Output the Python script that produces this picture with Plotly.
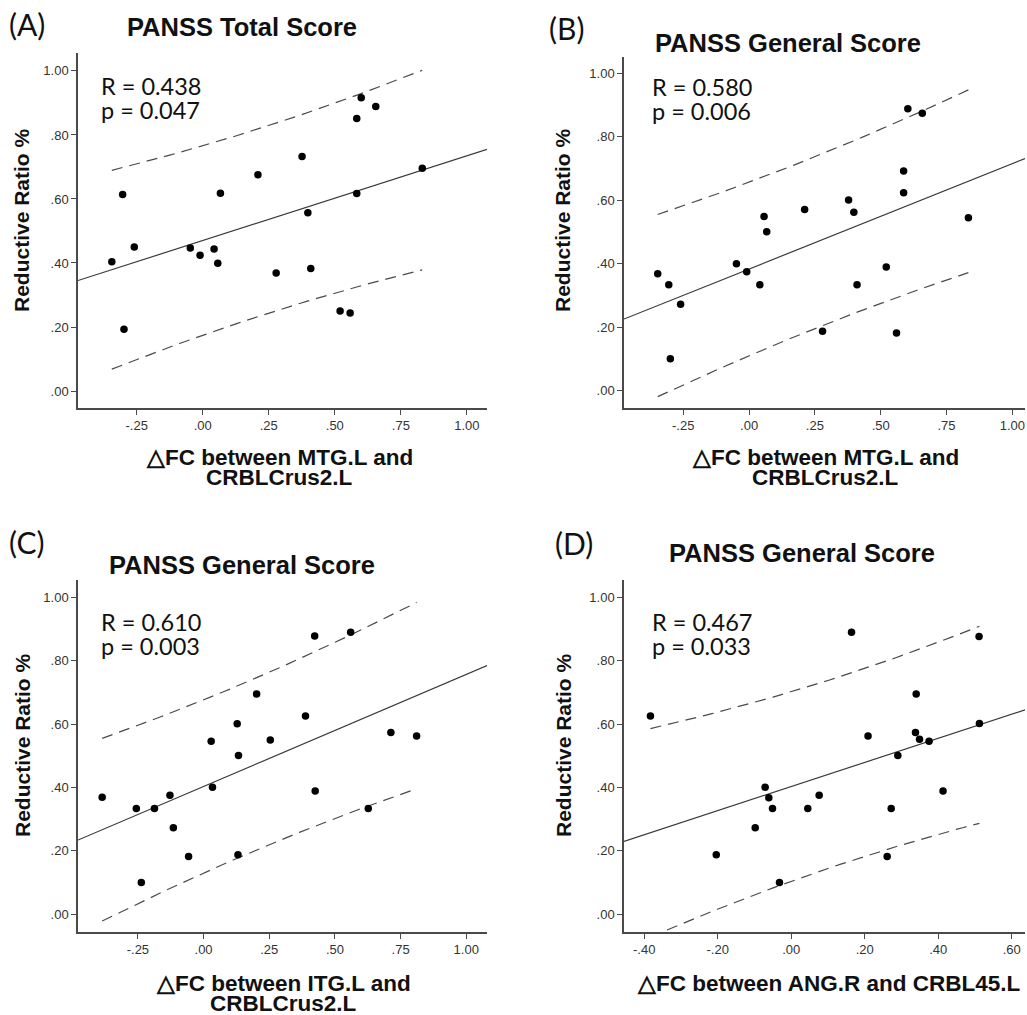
import numpy as np
import plotly.graph_objects as go

W, H = 1027, 1015

# ---------------- data ----------------
a_x = [-0.344, -0.303, -0.298, -0.259, -0.047, -0.010, 0.043, 0.057, 0.067, 0.209, 0.278,
       0.376, 0.398, 0.409, 0.520, 0.558, 0.583, 0.583, 0.600, 0.655, 0.831]
a_y = [0.404, 0.614, 0.193, 0.450, 0.447, 0.424, 0.444, 0.399, 0.618, 0.676, 0.369,
       0.733, 0.557, 0.383, 0.250, 0.244, 0.851, 0.617, 0.916, 0.889, 0.696]

b_x = [-0.347, -0.305, -0.299, -0.260, -0.048, -0.009, 0.041, 0.057, 0.067, 0.211, 0.279,
       0.378, 0.398, 0.410, 0.521, 0.560, 0.587, 0.587, 0.603, 0.658, 0.833]
b_y = [0.369, 0.334, 0.101, 0.273, 0.400, 0.375, 0.334, 0.549, 0.501, 0.571, 0.188,
       0.601, 0.562, 0.334, 0.390, 0.182, 0.692, 0.624, 0.888, 0.874, 0.545]

c_x = [-0.386, -0.256, -0.237, -0.187, -0.128, -0.115, -0.057, 0.029, 0.034, 0.128, 0.131,
       0.133, 0.202, 0.254, 0.388, 0.423, 0.425, 0.560, 0.627, 0.713, 0.811]
c_y = [0.369, 0.334, 0.100, 0.334, 0.376, 0.273, 0.182, 0.546, 0.401, 0.601, 0.188,
       0.501, 0.695, 0.550, 0.626, 0.878, 0.389, 0.890, 0.334, 0.574, 0.563]

d_x = [-0.383, -0.204, -0.098, -0.071, -0.061, -0.051, -0.032, 0.045, 0.076, 0.164, 0.209,
       0.261, 0.272, 0.290, 0.338, 0.340, 0.349, 0.375, 0.413, 0.511, 0.512]
d_y = [0.626, 0.188, 0.273, 0.401, 0.368, 0.334, 0.100, 0.334, 0.376, 0.890, 0.563,
       0.182, 0.334, 0.501, 0.574, 0.695, 0.552, 0.546, 0.389, 0.877, 0.602]

panel_labels = ["(A)", "(B)", "(C)", "(D)"]
titles = ["PANSS Total Score", "PANSS General Score", "PANSS General Score", "PANSS General Score"]
r_texts = ["R = 0.438", "R = 0.580", "R = 0.610", "R = 0.467"]
p_texts = ["p = 0.047", "p = 0.006", "p = 0.003", "p = 0.033"]
xtitle_lines = [["△FC between MTG.L and", "CRBLCrus2.L"],
                ["△FC between MTG.L and", "CRBLCrus2.L"],
                ["△FC between ITG.L and", "CRBLCrus2.L"],
                ["△FC between ANG.R and CRBL45.L"]]
ytitle = "Reductive Ratio %"

y_tickvals = [0.0, 0.2, 0.4, 0.6, 0.8, 1.0]
y_ticktext = [".00", ".20", ".40", ".60", ".80", "1.00"]
x_tickvals_fc = [-0.25, 0.0, 0.25, 0.5, 0.75, 1.0]
x_ticktext_fc = ["-.25", ".00", ".25", ".50", ".75", "1.00"]
x_tickvals_d = [-0.4, -0.2, 0.0, 0.2, 0.4, 0.6]
x_ticktext_d = ["-.40", "-.20", ".00", ".20", ".40", ".60"]

# critical multiplier that reproduces the width of the dashed individual-prediction bands
T_BAND = 1.49

# ---------------- layout geometry (pixels) ----------------
panels = [
    dict(x=a_x, y=a_y, dom=(78, 487, 53, 408), xr=(-0.472, 1.076), yr=(-0.053, 1.056),
         tv=x_tickvals_fc, tt=x_ticktext_fc,
         lab=(7, 24), title=(242, 27), rp=(99, 86), yt=(22, 220), xt=(279, 457)),
    dict(x=b_x, y=b_y, dom=(624, 1025, 57, 408), xr=(-0.475, 1.048), yr=(-0.054, 1.051),
         tv=x_tickvals_fc, tt=x_ticktext_fc,
         lab=(547, 28), title=(788, 43), rp=(650, 87), yt=(563, 220), xt=(825, 457)),
    dict(x=c_x, y=c_y, dom=(78, 487, 580, 932), xr=(-0.478, 1.079), yr=(-0.056, 1.055),
         tv=x_tickvals_fc, tt=x_ticktext_fc,
         lab=(7, 542), title=(242, 565), rp=(99, 622), yt=(22, 745), xt=(283, 983)),
    dict(x=d_x, y=d_y, dom=(624, 1025, 580, 932), xr=(-0.455, 0.636), yr=(-0.056, 1.055),
         tv=x_tickvals_d, tt=x_ticktext_d,
         lab=(553, 543), title=(802, 553), rp=(650, 622), yt=(563, 745), xt=(828, 983)),
]

def px(v):
    return v / W

def py(v):
    return 1 - v / H

AXIS_COLOR = "#4a4a4a"
BOLD_FONT = "Liberation Sans, Arial, sans-serif"
TEXT_FONT = "Lato, Open Sans, sans-serif"

fig = go.Figure()
layout = dict(width=W, height=H, margin=dict(l=0, r=0, t=0, b=0),
              paper_bgcolor="white", plot_bgcolor="white", showlegend=False,
              annotations=[])

for i, p in enumerate(panels):
    n = i + 1
    xa = "x" if n == 1 else f"x{n}"
    ya = "y" if n == 1 else f"y{n}"
    x = np.array(p["x"], dtype=float)
    y = np.array(p["y"], dtype=float)
    nn = len(x)
    slope, intercept = np.polyfit(x, y, 1)
    resid = y - (slope * x + intercept)
    se = np.sqrt(np.sum(resid ** 2) / (nn - 2))
    xbar = x.mean()
    sxx = np.sum((x - xbar) ** 2)

    # fit line across the whole axis
    xl = np.array(p["xr"])
    fig.add_trace(go.Scatter(x=xl, y=slope * xl + intercept, mode="lines",
                             line=dict(color="#3a3a3a", width=1.2),
                             xaxis=xa, yaxis=ya, hoverinfo="skip"))
    # individual prediction band over the data range
    xg = np.linspace(x.min(), x.max(), 60)
    half = T_BAND * se * np.sqrt(1 + 1 / nn + (xg - xbar) ** 2 / sxx)
    for sgn in (1, -1):
        fig.add_trace(go.Scatter(x=xg, y=slope * xg + intercept + sgn * half, mode="lines",
                                 line=dict(color="#4a4a4a", width=1.2, dash="11px,7px"),
                                 xaxis=xa, yaxis=ya, hoverinfo="skip"))
    fig.add_trace(go.Scatter(x=x, y=y, mode="markers",
                             marker=dict(color="black", size=7.5),
                             xaxis=xa, yaxis=ya))

    x0, x1, y0, y1 = p["dom"]
    axis_common = dict(showline=True, linecolor=AXIS_COLOR, linewidth=1.5,
                       ticks="outside", ticklen=5, tickwidth=1, tickcolor=AXIS_COLOR,
                       showgrid=False, zeroline=False,
                       tickfont=dict(family="Liberation Sans, Arial, sans-serif", size=13, color="#333333"))
    layout["xaxis" if n == 1 else f"xaxis{n}"] = dict(
        domain=[px(x0), px(x1)], range=list(p["xr"]), anchor=ya,
        tickvals=p["tv"], ticktext=p["tt"], **axis_common)
    layout["yaxis" if n == 1 else f"yaxis{n}"] = dict(
        domain=[py(y1), py(y0)], range=list(p["yr"]), anchor=xa,
        tickvals=y_tickvals, ticktext=y_ticktext, **axis_common)

    ann = layout["annotations"]
    lx, ly = p["lab"]
    ann.append(dict(text=panel_labels[i], x=px(lx), y=py(ly), xref="paper", yref="paper",
                    xanchor="left", yanchor="middle", showarrow=False,
                    font=dict(family=TEXT_FONT, size=30, color="#111111")))
    tx, ty = p["title"]
    ann.append(dict(text=f"<b>{titles[i]}</b>", x=px(tx), y=py(ty), xref="paper", yref="paper",
                    xanchor="center", yanchor="middle", showarrow=False,
                    font=dict(family=BOLD_FONT, size=25.5, color="#111111")))
    rx, ry = p["rp"]
    ann.append(dict(text=r_texts[i], x=px(rx), y=py(ry), xref="paper", yref="paper",
                    xanchor="left", yanchor="middle", showarrow=False,
                    font=dict(family=TEXT_FONT, size=23.5, color="#111111")))
    ann.append(dict(text=p_texts[i], x=px(rx), y=py(ry + 24), xref="paper", yref="paper",
                    xanchor="left", yanchor="middle", showarrow=False,
                    font=dict(family=TEXT_FONT, size=23.5, color="#111111")))
    yx, yy = p["yt"]
    ann.append(dict(text=f"<b>{ytitle}</b>", x=px(yx), y=py(yy), xref="paper", yref="paper",
                    xanchor="center", yanchor="middle", textangle=-90, showarrow=False,
                    font=dict(family=BOLD_FONT, size=21, color="#111111")))
    xx, xy = p["xt"]
    for k, line in enumerate(xtitle_lines[i]):
        ann.append(dict(text=f"<b>{line}</b>", x=px(xx), y=py(xy + 20 * k), xref="paper", yref="paper",
                        xanchor="center", yanchor="middle", showarrow=False,
                        font=dict(family=BOLD_FONT, size=22.5, color="#111111")))

fig.update_layout(**layout)
fig.write_html("out.html", config={"displayModeBar": False},
               post_script="document.body.style.margin='0';")
